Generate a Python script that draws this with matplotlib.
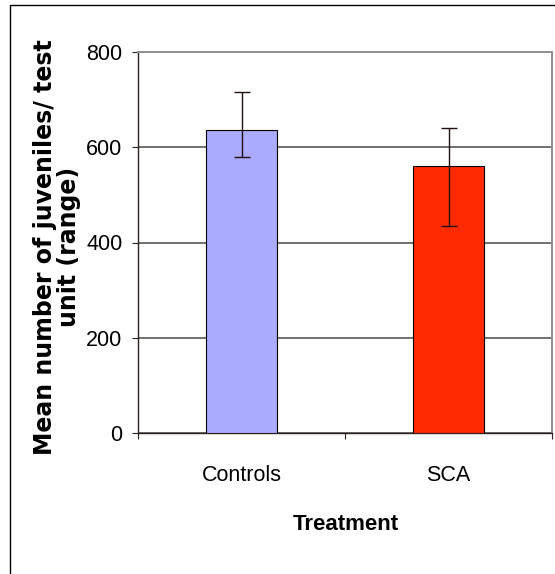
import matplotlib
matplotlib.use("Agg")
import matplotlib.pyplot as plt
from matplotlib.patches import Rectangle

# data
categories = ["Controls", "SCA"]
means = [637, 561]
err_low = [580, 435]
err_high = [716, 641]
bar_colors = ["#AAAAFF", "#FF2A00"]

plt.rcParams["font.family"] = ["Liberation Sans", "DejaVu Sans"]

fig = plt.figure(figsize=(5.55, 5.74), dpi=100)
ax = fig.add_axes([138 / 555, 1 - 433 / 574, (552 - 138) / 555, (433 - 52) / 574])

x = list(range(len(categories)))
yerr = [[m - lo for m, lo in zip(means, err_low)], [hi - m for m, hi in zip(means, err_high)]]
ax.bar(x, means, width=0.34, color=bar_colors, edgecolor="black", linewidth=0.8, zorder=3)
ax.errorbar(x, means, yerr=yerr, fmt="none", ecolor="#201010", elinewidth=1.0,
            capsize=5.5, capthick=1.0, zorder=4)

ax.set_xlim(-0.5, 1.5)
ax.set_ylim(0, 800)
ax.set_yticks([0, 200, 400, 600, 800])
ax.yaxis.grid(True, color="#707070", linewidth=1.4, zorder=0)
ax.set_axisbelow(True)

ax.set_xticks([-0.5, 0.5, 1.5])
ax.set_xticklabels([])
ax.set_xticks(x, minor=True)
ax.set_xticklabels(categories, minor=True, fontsize=15.5)
ax.tick_params(axis="x", which="minor", length=0, pad=23)
ax.tick_params(axis="x", which="major", direction="out", length=4.3, color="#302020")
ax.tick_params(axis="y", direction="out", length=4.3, labelsize=15.5, pad=7, color="#302020")

for side in ["left", "bottom"]:
    ax.spines[side].set_color("#302020")
    ax.spines[side].set_linewidth(1.0)
for side in ["top", "right"]:
    ax.spines[side].set_color("#909090")
    ax.spines[side].set_linewidth(1.4)

fig.text(57 / 555, 1 - 247 / 574, "Mean number of juveniles/ test\nunit (range)",
         rotation=90, ha="center", va="center", multialignment="center",
         family=["DejaVu Sans"], fontsize=17, fontweight="bold", linespacing=1.05)
fig.text(346 / 555, 1 - 525 / 574, "Treatment", ha="center", va="center",
         fontsize=16, fontweight="bold")

fig.patches.append(Rectangle((10 / 555, -0.1), 1.2, 1 - 5 / 574 + 0.1, transform=fig.transFigure,
                             fill=False, edgecolor="black", linewidth=1.0))

fig.savefig("out.png", dpi=100)
